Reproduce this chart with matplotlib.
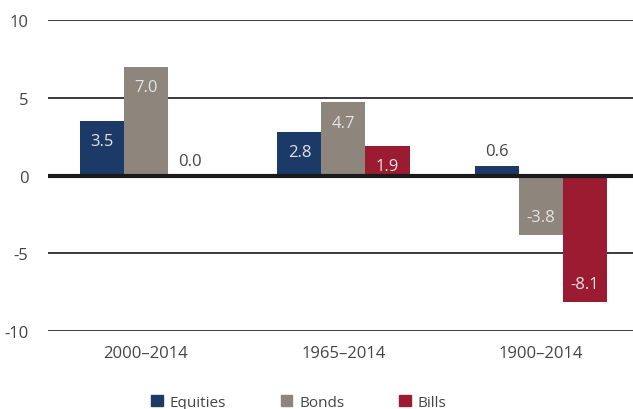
import numpy as np
import matplotlib.pyplot as plt
from matplotlib.patches import Patch

# Data
periods = ["2000\u20132014", "1965\u20132014", "1900\u20132014"]
equities = [3.5, 2.8, 0.6]
bonds = [7.0, 4.7, -3.8]
bills = [0.0, 1.9, -8.1]

series = [("Equities", equities, "#1b3a68"),
          ("Bonds", bonds, "#8e857c"),
          ("Bills", bills, "#9b1c31")]

plt.rcParams["font.family"] = ["Open Sans", "DejaVu Sans"]

fig = plt.figure(figsize=(6.33, 4.10), dpi=100)
ax = fig.add_axes([0.0758, 0.19, 0.9242, 0.759])

x = np.arange(len(periods))
width = 0.223
for i, (name, vals, color) in enumerate(series):
    pos = x + (i - 1) * width
    ax.bar(pos, vals, width, color=color, zorder=3)
    for xp, v in zip(pos, vals):
        if abs(v) < 1.5:
            ax.text(xp, v + 0.45, f"{v:.1f}", ha="center", va="bottom",
                    fontsize=12, color="#444444", zorder=4)
        elif v > 0:
            ax.text(xp, v - 1.3, f"{v:.1f}", ha="center", va="center",
                    fontsize=12, color="#e4e4e4", zorder=4)
        else:
            ax.text(xp, v + 1.15, f"{v:.1f}", ha="center", va="center",
                    fontsize=12, color="#e4e4e4", zorder=4)

ax.set_xlim(-0.496, 2.466)
ax.set_ylim(-10, 10)
ax.set_yticks([-10, -5, 0, 5, 10])
ax.set_yticklabels(["-10", "-5", "0", "5", "10"])
ax.set_xticks(x)
ax.set_xticklabels(periods)

for y in [-10, -5, 5, 10]:
    ax.axhline(y, color="#3a3a3a", lw=1.4, zorder=1)
ax.axhline(0, color="#1a1a1a", lw=3, zorder=5)

for s in ax.spines.values():
    s.set_visible(False)
ax.tick_params(axis="both", length=0, labelsize=12, colors="#444444")
ax.tick_params(axis="y", pad=14)
ax.tick_params(axis="x", pad=10)

handles = [Patch(color=c, label=n) for n, _, c in series]
leg = fig.legend(handles=handles, loc="lower center", ncol=3,
                 bbox_to_anchor=(0.472, -0.035), frameon=False,
                 fontsize=11, handlelength=0.75, handleheight=0.75,
                 handletextpad=0.45, columnspacing=3.6)
for t in leg.get_texts():
    t.set_color("#444444")

fig.savefig("out.png", dpi=100)
